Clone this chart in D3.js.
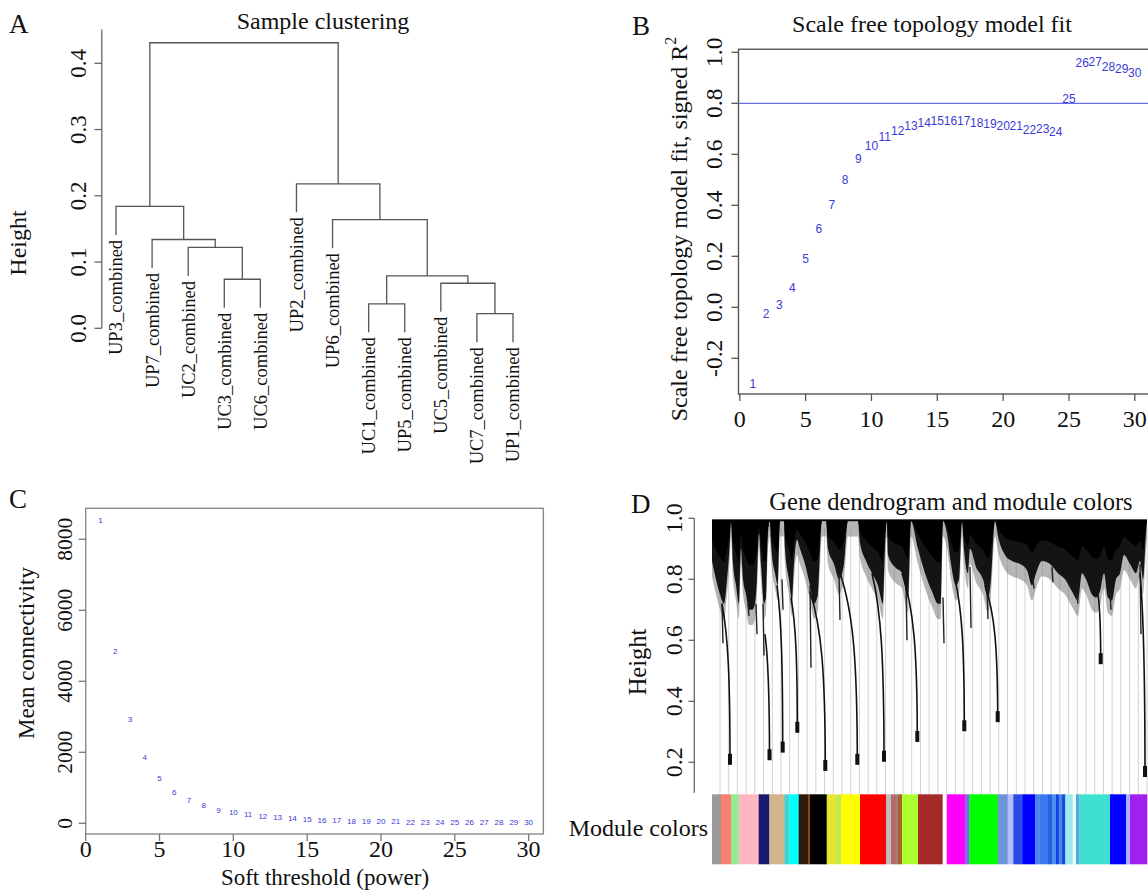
<!DOCTYPE html>
<html><head><meta charset="utf-8">
<script src="https://cdn.jsdelivr.net/npm/d3@7"></script>
<style>
body{margin:0;background:#fff}
text{font-family:"Liberation Serif","Times New Roman",serif;fill:#111}
</style>
</head><body>
<svg id="c" width="1148" height="894"></svg>
<script>
// ---------------- DATA ----------------
// Panel A: sample clustering (R hclust style merge table; "mN" = N-th merge)
const sampleLeaves = ["UP3_combined","UP7_combined","UC2_combined","UC3_combined","UC6_combined",
  "UP2_combined","UP6_combined","UC1_combined","UP5_combined","UC5_combined","UC7_combined","UP1_combined"];
const sampleMerges = [
  ["UC7_combined","UP1_combined",0.022],
  ["UC1_combined","UP5_combined",0.037],
  ["UC5_combined","m1",0.068],
  ["UC3_combined","UC6_combined",0.074],
  ["m2","m3",0.079],
  ["UC2_combined","m4",0.122],
  ["UP7_combined","m6",0.134],
  ["UP6_combined","m5",0.164],
  ["UP3_combined","m7",0.184],
  ["UP2_combined","m8",0.218],
  ["m9","m10",0.431]
];
const heightTicksA = [0.0,0.1,0.2,0.3,0.4];

// Panels B and C: soft-threshold powers
const powers = [1,2,3,4,5,6,7,8,9,10,11,12,13,14,15,16,17,18,19,20,21,22,23,24,25,26,27,28,29,30];
const scaleFitR2 = [-0.30,-0.025,0.01,0.077,0.19,0.306,0.403,0.50,0.582,0.635,0.668,0.694,0.71,0.723,0.733,
  0.733,0.733,0.724,0.718,0.711,0.711,0.697,0.70,0.69,0.816,0.958,0.962,0.942,0.936,0.918];
const meanConnectivity = [8544,4853,2946,1876,1276,882,656,507,375,310,262,186,169,141,113,
  93,80,70,62,55,50,45,42,38,35,32,30,28,26,24];
const powerTicks = [0,5,10,15,20,25,30];
const r2Ticks = [-0.2,0.0,0.2,0.4,0.6,0.8,1.0];
const r2Cutoff = 0.8;
const connTicks = [0,2000,4000,6000,8000];

// Panel D: gene dendrogram (leaf-order units 0..435) and module colours
const canopyEdge = [[0,0.86],[4,0.80],[8,0.75],[12,0.72],[15,0.80],[18,0.93],[19,0.99],[21,0.85],[24,0.78],[27,0.72],
  [29,0.90],[31,0.80],[34,0.75],[37,0.70],[40,0.70],[43,0.72],[45,0.80],[47,0.95],[49,0.85],[52,0.72],[54,0.74],
  [56,0.95],[58,0.99],[59,0.92],[63,0.82],[66,0.78],[68,0.99],[72,0.99],[73,0.90],[77,0.80],[80,0.73],[82,0.85],
  [85,0.93],[88,0.90],[93,0.85],[98,0.78],[102,0.72],[106,0.75],[110,0.99],[114,0.99],[116,0.90],[122,0.85],
  [127,0.80],[132,0.85],[136,0.99],[146,0.99],[148,0.92],[154,0.86],[160,0.82],[166,0.78],[171,0.72],[173,0.90],
  [175,0.99],[176,0.88],[183,0.84],[190,0.82],[194,0.76],[196,0.74],[199,0.99],[206,0.90],[213,0.82],[220,0.76],
  [226,0.72],[229,0.72],[231,0.99],[235,0.95],[239,0.85],[244,0.78],[247,0.80],[250,0.99],[252,0.90],[256,0.82],
  [258,0.90],[264,0.84],[271,0.80],[276,0.74],[279,0.80],[283,0.99],[286,0.94],[293,0.88],[300,0.86],[308,0.85],
  [315,0.83],[320,0.78],[324,0.82],[330,0.86],[338,0.85],[346,0.82],[353,0.80],[360,0.76],[366,0.73],[370,0.82],
  [374,0.80],[380,0.75],[384,0.74],[388,0.76],[392,0.82],[396,0.74],[400,0.73],[404,0.80],[408,0.82],[412,0.88],
  [418,0.85],[424,0.82],[428,0.86],[431,0.80],[434,0.95],[435,0.99]];
const geneFingers = [[10,0.72,0.59],[36,0.72,0.68],[44,0.72,0.62],[51,0.72,0.55],[98,0.78,0.51],[127,0.82,0.667],
  [194,0.78,0.60],[231,0.74,0.59],[258,0.84,0.64],[275,0.78,0.67],[321,0.80,0.77],[365,0.75,0.72],
  [398,0.76,0.70],[428,0.85,0.62],[70,0.80,0.70],[340,0.84,0.79]];
const geneStems = [[10,0.72,18,0.195],[53,0.62,57.5,0.21],[65,0.78,70.7,0.235],[79,0.74,85.3,0.30],
  [98,0.76,113.3,0.175],[128,0.82,145.3,0.195],[160,0.82,172,0.205],[190,0.82,205.3,0.27],
  [243,0.80,252.3,0.305],[273,0.78,285.7,0.335],[386,0.75,388.7,0.525],[428,0.82,433,0.155]];
const topMerges = [[0,435,0.995],[20,60,0.975],[290,420,0.985],[330,420,0.975],[360,418,0.965],[375,415,0.955]];
const moduleColors = [["#9a9a9a",9],["#fa8072",10],["#90ee90",7.7],["#ffb6c1",20],["#191970",10.6],["#d2b48c",15],
  ["#48d1cc",5],["#00ffff",9.4],["#2b1b0e",9.3],["#8b4513",2],["#000000",16.7],["#e6e632",9.3],["#c5e85a",5],
  ["#ffff00",19],["#ff0000",26],["#bdbdbd",5],["#b56a6a",5],["#a08080",2],["#b0602a",4],["#adff2f",16],
  ["#a52a2a",24.7],["#ffffff",4],["#ff00ff",18.6],["#7b68ee",4],["#00ff00",28.4],["#6e95d8",10],["#b3bdf5",5.6],
  ["#2a4be6",9.4],["#0000ff",12.6],["#4a86e8",4],["#3a78ee",8.7],["#2b5fe6",4],["#4a90f0",4],["#1a3ee0",2.7],
  ["#3e88f0",3.3],["#1a4ad8",3.3],["#9ee8f0",7.4],["#e6ffff",3.3],["#5aa8d8",3.3],["#40e0d0",30.7],["#0000ff",16],
  ["#a8b0ff",4],["#a020f0",17]];
const dendroTicks = [0.2,0.4,0.6,0.8,1.0];
const guideCount = 50;

// ---------------- DRAWING ----------------
const svg = d3.select("#c");
svg.append("rect").attr("width",1148).attr("height",894).attr("fill","#fff");
const fmt1 = v => v.toFixed(1);

function rotText(g, x, y, txt, size, anchor){
  return g.append("text").attr("transform",`translate(${x},${y}) rotate(-90)`)
    .attr("text-anchor",anchor||"middle").attr("font-size",size).text(txt);
}

// ===== Panel A =====
{
  const g = svg.append("g");
  const xA = d3.scalePoint().domain(sampleLeaves).range([116,513]);
  const yA = d3.scaleLinear().domain([0,0.451]).range([328.3,29.5]);
  const hang = 0.043;
  const nodes = {};
  sampleLeaves.forEach(n => nodes[n] = {x:xA(n), h:null});
  const leafEnd = {};
  sampleMerges.forEach((m,i) => {
    const [a,b,h] = m, A = nodes[a], B = nodes[b];
    const ya = A.h===null ? h-hang : A.h, yb = B.h===null ? h-hang : B.h;
    if (A.h===null) leafEnd[a] = ya;
    if (B.h===null) leafEnd[b] = yb;
    g.append("path").attr("fill","none").attr("stroke","#555").attr("stroke-width",1.3)
      .attr("d",`M${A.x},${yA(ya)}V${yA(h)}H${B.x}V${yA(yb)}`);
    nodes["m"+(i+1)] = {x:(A.x+B.x)/2, h:h};
  });
  sampleLeaves.forEach(n => {
    rotText(g, xA(n), yA(leafEnd[n])+5, n, 18.5, "end").attr("dy","0.35em");
  });
  g.append("line").attr("x1",101.8).attr("x2",101.8).attr("y1",yA(0)).attr("y2",yA(0.451))
    .attr("stroke","#666").attr("stroke-width",1.3);
  heightTicksA.forEach(v => {
    g.append("line").attr("x1",101.8).attr("x2",94.5).attr("y1",yA(v)).attr("y2",yA(v))
      .attr("stroke","#666").attr("stroke-width",1.3);
    rotText(g, 86, yA(v), fmt1(v), 23);
  });
  rotText(g, 26, 243, "Height", 24);
  g.append("text").attr("x",323).attr("y",29).attr("text-anchor","middle").attr("font-size",24).text("Sample clustering");
  g.append("text").attr("x",9).attr("y",33).attr("font-size",27).text("A");
}

// ===== Panel B =====
{
  const g = svg.append("g");
  const xB = d3.scaleLinear().domain([0,30]).range([739.8,1134.8]);
  const yB = d3.scaleLinear().domain([-0.2,1.0]).range([358.3,52.3]);
  const left = xB(-0.1), top = yB(1.012), bottom = yB(-0.34);
  g.append("rect").attr("x",left).attr("y",top).attr("width",1160-left).attr("height",bottom-top)
    .attr("fill","none").attr("stroke","#555").attr("stroke-width",1.4);
  g.append("line").attr("x1",left).attr("x2",1148).attr("y1",yB(r2Cutoff)).attr("y2",yB(r2Cutoff))
    .attr("stroke","#6b6bf2").attr("stroke-width",1.2);
  powerTicks.forEach(v => {
    g.append("line").attr("x1",xB(v)).attr("x2",xB(v)).attr("y1",bottom).attr("y2",bottom+7)
      .attr("stroke","#555").attr("stroke-width",1.3);
    g.append("text").attr("x",xB(v)).attr("y",427).attr("text-anchor","middle").attr("font-size",24).text(v);
  });
  r2Ticks.forEach(v => {
    g.append("line").attr("x1",left).attr("x2",left-7).attr("y1",yB(v)).attr("y2",yB(v))
      .attr("stroke","#555").attr("stroke-width",1.3);
    rotText(g, 722, yB(v), fmt1(v), 23.5);
  });
  const lab = rotText(g, 687, 229, "Scale free topology model fit, signed R", 24);
  lab.append("tspan").attr("font-size",16).attr("dy","-0.7em").text("2");
  g.selectAll("text.pt").data(powers).join("text").attr("class","pt")
    .attr("x",d=>xB(d)).attr("y",(d,i)=>yB(scaleFitR2[i])).attr("dy","0.35em")
    .attr("text-anchor","middle").style("font-family","'Liberation Sans',Arial,sans-serif")
    .style("fill","#3a3ad8").attr("font-size",12).text(d=>d);
  g.append("text").attr("x",932).attr("y",32).attr("text-anchor","middle").attr("font-size",24).text("Scale free topology model fit");
  g.append("text").attr("x",632).attr("y",35).attr("font-size",27).text("B");
}

// ===== Panel C =====
{
  const g = svg.append("g");
  const xC = d3.scaleLinear().domain([0,30]).range([85.7,528.6]);
  const yC = d3.scaleLinear().domain([0,8000]).range([823.3,539.3]);
  const left = xC(0), right = xC(31), top = yC(8873), bottom = yC(-301);
  g.append("rect").attr("x",left).attr("y",top).attr("width",right-left).attr("height",bottom-top)
    .attr("fill","none").attr("stroke","#8a8a8a").attr("stroke-width",1.4);
  powerTicks.forEach(v => {
    g.append("line").attr("x1",xC(v)).attr("x2",xC(v)).attr("y1",bottom).attr("y2",bottom+7)
      .attr("stroke","#777").attr("stroke-width",1.3);
    g.append("text").attr("x",xC(v)).attr("y",857).attr("text-anchor","middle").attr("font-size",24).text(v);
  });
  connTicks.forEach(v => {
    g.append("line").attr("x1",left).attr("x2",left-7).attr("y1",yC(v)).attr("y2",yC(v))
      .attr("stroke","#777").attr("stroke-width",1.3);
    rotText(g, 71.5, yC(v), String(v), 21.5);
  });
  g.selectAll("text.pt").data(powers).join("text").attr("class","pt")
    .attr("x",d=>xC(d)).attr("y",(d,i)=>yC(meanConnectivity[i])).attr("dy","0.35em")
    .attr("text-anchor","middle").style("font-family","'Liberation Sans',Arial,sans-serif")
    .style("fill","#3a3ad8").attr("font-size",8).text(d=>d);
  rotText(g, 34, 653, "Mean connectivity", 23);
  g.append("text").attr("x",325).attr("y",885).attr("text-anchor","middle").attr("font-size",23).text("Soft threshold (power)");
  g.append("text").attr("x",9).attr("y",508).attr("font-size",27).text("C");
}

// ===== Panel D =====
{
  const g = svg.append("g");
  const xD = d3.scaleLinear().domain([0,435]).range([712,1147]);
  const yD = d3.scaleLinear().domain([0.2,1.0]).range([762.3,518.3]);
  const barTop = 794.3, barBot = 864.3;
  // guide lines
  const step = (435-8)/(guideCount-1);
  d3.range(guideCount).forEach(i => {
    const u = 8 + i*step;
    g.append("line").attr("x1",xD(u)).attr("x2",xD(u)).attr("y1",yD(0.97)).attr("y2",barTop)
      .attr("stroke","#d2d2d2").attr("stroke-width",1);
  });
  // top merges
  topMerges.forEach(([u0,u1,h]) => {
    g.append("line").attr("x1",xD(u0)).attr("x2",xD(u1)).attr("y1",yD(h)).attr("y2",yD(h))
      .attr("stroke","#777").attr("stroke-width",1.2);
  });
  // canopy: faint streak layer below, dense black layer on top
  const areaFaint = d3.area().x(d=>xD(d[0])).y0(yD(0.995)).y1(d=>yD(Math.max(d[1]-0.05,0.5))).curve(d3.curveMonotoneX);
  g.append("path").attr("d",areaFaint(canopyEdge)).attr("fill","#7a7a7a").attr("opacity",0.55);
  const area = d3.area().x(d=>xD(d[0])).y0(yD(0.995)).y1(d=>yD(d[1])).curve(d3.curveMonotoneX);
  g.append("path").attr("d",area(canopyEdge)).attr("fill","#141414");
  const areaTop = d3.area().x(d=>xD(d[0])).y0(yD(0.995)).y1(d=>yD(Math.min(0.995,(d[1]+0.995)/2))).curve(d3.curveMonotoneX);
  g.append("path").attr("d",areaTop(canopyEdge)).attr("fill","#000");
  // fingers
  geneFingers.forEach(([u,h0,h1]) => {
    g.append("line").attr("x1",xD(u)).attr("x2",xD(u)+1).attr("y1",yD(h0)).attr("y2",yD(h1))
      .attr("stroke","#222").attr("stroke-width",1.4);
  });
  // stems
  geneStems.forEach(([u0,h0,u1,h1]) => {
    const dx = xD(u1)-xD(u0), y0 = yD(h0), y1 = yD(h1), dy = y1-y0;
    g.append("path").attr("fill","none").attr("stroke","#111").attr("stroke-width",1.6)
      .attr("d",`M${xD(u0)},${y0}C${xD(u0)+0.75*dx},${y0+0.2*dy} ${xD(u1)},${y0+0.45*dy} ${xD(u1)},${y1}`);
    g.append("rect").attr("x",xD(u1)-2).attr("y",y1-10).attr("width",4).attr("height",11).attr("fill","#111");
  });
  // axis
  g.append("line").attr("x1",694.3).attr("x2",694.3).attr("y1",yD(1.0)).attr("y2",yD(0.1))
    .attr("stroke","#666").attr("stroke-width",1.3);
  dendroTicks.forEach(v => {
    g.append("line").attr("x1",694.3).attr("x2",688.5).attr("y1",yD(v)).attr("y2",yD(v))
      .attr("stroke","#666").attr("stroke-width",1.3);
    rotText(g, 682, yD(v), fmt1(v), 24);
  });
  rotText(g, 646, 662, "Height", 24.5);
  // module colour bar
  let acc = 0;
  moduleColors.forEach(([c,w]) => {
    g.append("rect").attr("x",xD(acc)).attr("y",barTop).attr("width",xD(acc+w)-xD(acc)+0.3)
      .attr("height",barBot-barTop).attr("fill",c);
    acc += w;
  });
  g.append("text").attr("x",708).attr("y",836).attr("text-anchor","end").attr("font-size",24).text("Module colors");
  g.append("text").attr("x",951).attr("y",510).attr("text-anchor","middle").attr("font-size",24.5).text("Gene dendrogram and module colors");
  g.append("text").attr("x",631).attr("y",513).attr("font-size",27).text("D");
}
</script>
</body></html>
